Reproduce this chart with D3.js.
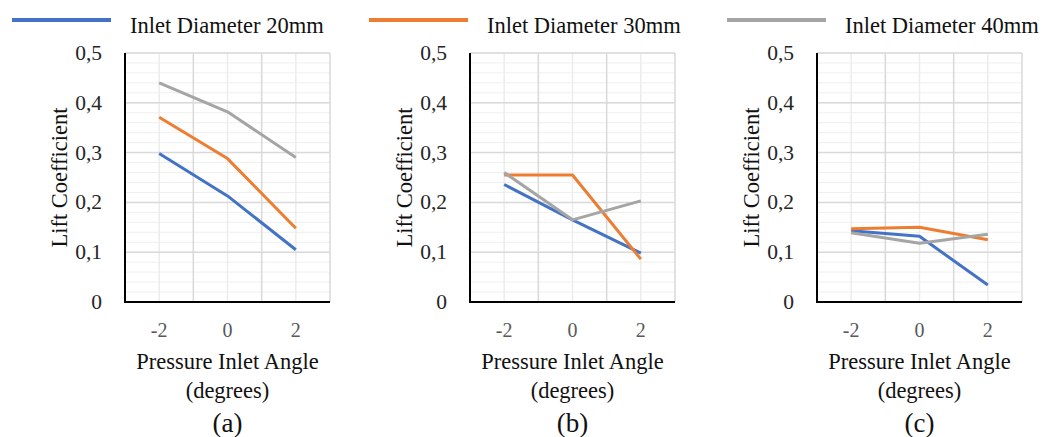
<!DOCTYPE html>
<html>
<head>
<meta charset="utf-8">
<script src="https://cdn.jsdelivr.net/npm/d3@7"></script>
<style>
  body { margin: 0; background: #fff; }
  svg text { font-family: "Liberation Serif", "Times New Roman", serif; }
</style>
</head>
<body>
<svg id="chart" width="1050" height="437"></svg>
<script>
// values
const angles = [-2, 0, 2];
const seriesNames = ["Inlet Diameter 20mm", "Inlet Diameter 30mm", "Inlet Diameter 40mm"];
const colors = ["#4472C4", "#ED7D31", "#A5A5A5"];
const yTicks = [0, 0.1, 0.2, 0.3, 0.4, 0.5];
const xTicks = [-2, 0, 2];
const panelLabels = ["(a)", "(b)", "(c)"];

const panelA20 = [0.298, 0.213, 0.105];
const panelA30 = [0.371, 0.288, 0.148];
const panelA40 = [0.440, 0.382, 0.290];

const panelB20 = [0.236, 0.165, 0.098];
const panelB30 = [0.255, 0.255, 0.086];
const panelB40 = [0.260, 0.165, 0.203];

const panelC20 = [0.143, 0.132, 0.034];
const panelC30 = [0.147, 0.150, 0.125];
const panelC40 = [0.139, 0.118, 0.136];

const panels = [
    [panelA20, panelA30, panelA40],
    [panelB20, panelB30, panelB40],
    [panelC20, panelC30, panelC40]
];

const serif = '"Liberation Serif", "Times New Roman", serif';
const svg = d3.select("#chart").attr("font-family", serif);
const fmt = d => String(d).replace(".", ",");

const plotLefts = [125, 470, 817];
const plotW = 205, plotTop = 53, plotBottom = 302;

// Legend
const legendX = [12, 369, 727];
const legend = svg.append("g");
seriesNames.forEach((name, i) => {
    legend.append("line")
        .attr("x1", legendX[i]).attr("x2", legendX[i] + 99)
        .attr("y1", 20).attr("y2", 20)
        .attr("stroke", colors[i])
        .attr("stroke-width", 4);
    legend.append("text")
        .attr("x", legendX[i] + 118)
        .attr("y", 33)
        .attr("font-family", serif)
        .style("font-size", "22.5px")
        .style("fill", "#111")
        .text(name);
});

panels.forEach((series, p) => {
    const left = plotLefts[p];
    const x = d3.scaleLinear().domain([-3, 3]).range([left, left + plotW]);
    const y = d3.scaleLinear().domain([0, 0.5]).range([plotBottom, plotTop]);
    const g = svg.append("g");

    // minor horizontal grid
    g.append("g").selectAll("line")
        .data(d3.range(0, 0.501, 0.02))
        .enter().append("line")
        .attr("x1", x(-3)).attr("x2", x(3))
        .attr("y1", d => y(d)).attr("y2", d => y(d))
        .attr("stroke", "#efefef").attr("stroke-width", 1);

    // minor vertical grid
    g.append("g").selectAll("line")
        .data([-2, 0, 2])
        .enter().append("line")
        .attr("x1", d => x(d)).attr("x2", d => x(d))
        .attr("y1", y(0)).attr("y2", y(0.5))
        .attr("stroke", "#ececec").attr("stroke-width", 1.5);

    // major grid
    g.append("g").selectAll("line")
        .data(yTicks.slice(1))
        .enter().append("line")
        .attr("x1", x(-3)).attr("x2", x(3))
        .attr("y1", d => y(d)).attr("y2", d => y(d))
        .attr("stroke", "#d9d9d9").attr("stroke-width", 1.5);

    g.append("g").selectAll("line")
        .data([-1, 1, 3])
        .enter().append("line")
        .attr("x1", d => x(d)).attr("x2", d => x(d))
        .attr("y1", y(0)).attr("y2", y(0.5))
        .attr("stroke", "#d9d9d9").attr("stroke-width", 1.5);

    // axes
    g.append("line")
        .attr("x1", x(-3)).attr("x2", x(-3))
        .attr("y1", y(0) + 1).attr("y2", y(0.5))
        .attr("stroke", "#000").attr("stroke-width", 2);
    g.append("line")
        .attr("x1", x(-3) - 1).attr("x2", x(3))
        .attr("y1", y(0)).attr("y2", y(0))
        .attr("stroke", "#000").attr("stroke-width", 2);

    // y tick labels
    g.append("g").selectAll("text")
        .data(yTicks)
        .enter().append("text")
        .attr("x", left - 23)
        .attr("y", d => y(d))
        .attr("dy", "0.33em")
        .attr("text-anchor", "end")
        .attr("font-family", serif)
        .style("font-size", "21.5px")
        .style("fill", "#262626")
        .text(fmt);

    // x tick labels
    g.append("g").selectAll("text")
        .data(xTicks)
        .enter().append("text")
        .attr("x", d => x(d))
        .attr("y", 330)
        .attr("dy", "0.33em")
        .attr("text-anchor", "middle")
        .attr("font-family", serif)
        .style("font-size", "20px")
        .style("fill", "#595959")
        .text(d => d);

    // series lines
    const line = d3.line()
        .x((d, i) => x(angles[i]))
        .y(d => y(d));
    series.forEach((vals, s) => {
        g.append("path")
            .datum(vals)
            .attr("d", line)
            .attr("fill", "none")
            .attr("stroke", colors[s])
            .attr("stroke-width", 3)
            .attr("stroke-linejoin", "round");
    });

    // axis titles
    g.append("text")
        .attr("transform", `translate(${left - 65},${(plotTop + plotBottom) / 2}) rotate(-90)`)
        .attr("text-anchor", "middle")
        .attr("dy", "0.33em")
        .attr("font-family", serif)
        .style("font-size", "22.5px")
        .style("fill", "#111")
        .text("Lift Coefficient");

    const cx = left + plotW / 2;
    g.append("text")
        .attr("x", cx).attr("y", 362).attr("dy", "0.33em")
        .attr("text-anchor", "middle")
        .attr("font-family", serif)
        .style("font-size", "22.5px")
        .style("fill", "#111")
        .text("Pressure Inlet Angle");
    g.append("text")
        .attr("x", cx).attr("y", 391).attr("dy", "0.33em")
        .attr("text-anchor", "middle")
        .attr("font-family", serif)
        .style("font-size", "22.5px")
        .style("fill", "#111")
        .text("(degrees)");
    g.append("text")
        .attr("x", cx).attr("y", 423).attr("dy", "0.33em")
        .attr("text-anchor", "middle")
        .attr("font-family", serif)
        .style("font-size", "27px")
        .style("fill", "#111")
        .text(panelLabels[p]);
});
</script>
</body>
</html>
